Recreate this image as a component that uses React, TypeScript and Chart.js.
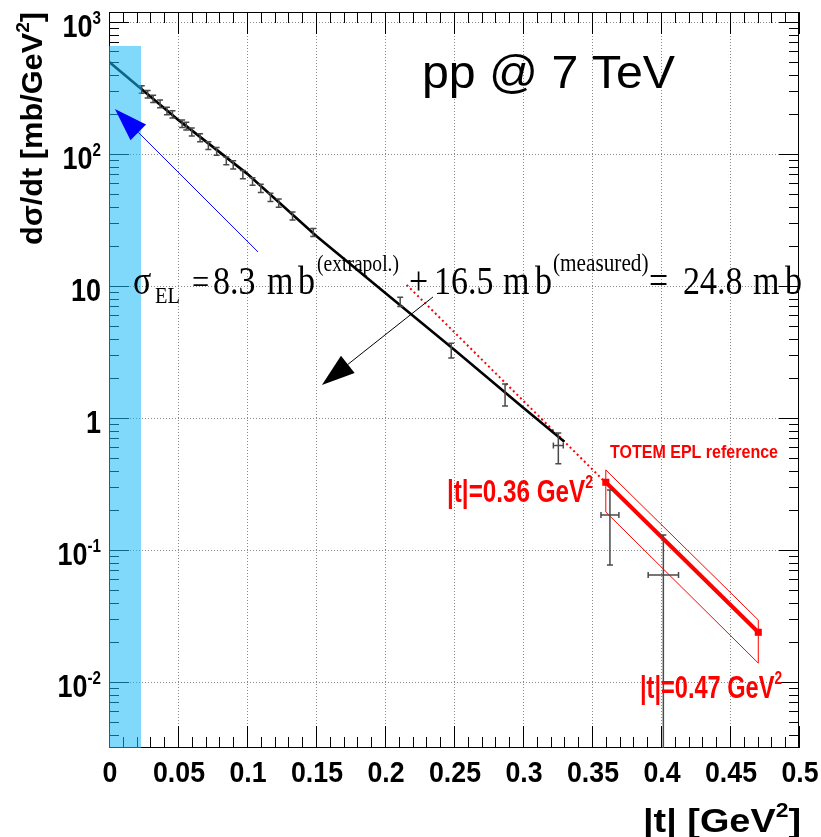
import React, { useEffect, useRef } from "react";
import { Chart, registerables } from "chart.js";
Chart.register(...registerables);

// ---- data ----
const fitT = [0, 0.05, 0.1, 0.15, 0.2, 0.25, 0.3, 0.33];
const fitV = [500, 182, 71, 24, 8.9, 3.3, 1.2, 0.66];

const dataT = [0.0237, 0.028, 0.032, 0.037, 0.042, 0.046, 0.053, 0.056, 0.06, 0.066, 0.072, 0.078, 0.085, 0.09, 0.097, 0.104, 0.11, 0.117, 0.123, 0.133, 0.148, 0.211, 0.248, 0.287, 0.3256, 0.363, 0.4017];
const dataV = [309, 284, 262, 240, 212, 200, 170, 163, 147, 133, 116, 105, 89, 83, 70, 62, 55, 47, 42.5, 34, 25.5, 7.6, 3.18, 1.54, 0.62, 0.184, 0.0647];
const dataErrLo = [20, 18, 17, 16, 14, 13, 11, 11, 10, 9, 8, 7, 6, 6, 5, 4, 4, 3.3, 3, 2.4, 1.8, 0.6, 0.33, 0.31, 0.17, 0.107, 0.0646];
const dataErrHi = [20, 18, 17, 16, 14, 13, 11, 11, 10, 9, 8, 7, 6, 6, 5, 4, 4, 3.3, 3, 2.4, 1.8, 0.6, 0.5, 0.27, 0.15, 0.101, 0.065];
const dataTErr = [0, 0, 0, 0, 0, 0, 0, 0, 0, 0, 0, 0, 0, 0, 0, 0, 0, 0, 0, 0, 0, 0, 0, 0, 0.0036, 0.0065, 0.011];

const extrapT = [0.2157, 0.358];
const extrapV = [10.2, 0.339];

const refT = [0.36, 0.4705];
const refV = [0.326, 0.0238];
const refBandT = [0.36, 0.4705, 0.4705, 0.36];
const refBandV = [0.404, 0.0295, 0.0139, 0.194];

const bandT = [0, 0.0232];
const bandVTop = 658;

const blueArrowT = [0.108, 0.0043];
const blueArrowV = [18.1, 219];
const blackArrowT = [0.2348, 0.1543];
const blackArrowV = [8.26, 1.78];

const xTickValues = [0, 0.05, 0.1, 0.15, 0.2, 0.25, 0.3, 0.35, 0.4, 0.45, 0.5];
const xTickLabels = ["0", "0.05", "0.1", "0.15", "0.2", "0.25", "0.3", "0.35", "0.4", "0.45", "0.5"];
const yTickValues = [1000, 100, 10, 1, 0.1, 0.01];
const yTickBase = ["10", "10", "10", "1", "10", "10"];
const yTickExp = ["3", "2", "", "", "-1", "-2"];

const X_MIN = 0, X_MAX = 0.5, Y_MIN = 0.0031623, Y_MAX = 1190;

type Seg = { t: string; size: number; dy?: number };

function segWidth(ctx: CanvasRenderingContext2D, segs: Seg[], weight: string, family: string) {
  let w = 0;
  for (const s of segs) {
    ctx.font = `${weight} ${s.size}px ${family}`;
    w += ctx.measureText(s.t).width;
  }
  return w;
}

function drawRich(
  ctx: CanvasRenderingContext2D,
  segs: Seg[],
  x: number,
  y: number,
  o: { weight?: string; family?: string; color?: string; width?: number; k?: number; align?: "left" | "right" | "center"; rotate?: number }
) {
  const weight = o.weight ?? "bold";
  const family = o.family ?? "'Liberation Sans', Arial, sans-serif";
  const nat = segWidth(ctx, segs, weight, family);
  const k = o.width ? o.width / nat : o.k ?? 1;
  const total = nat * k;
  ctx.save();
  ctx.translate(x, y);
  if (o.rotate) ctx.rotate(o.rotate);
  const start = o.align === "right" ? -total : o.align === "center" ? -total / 2 : 0;
  ctx.translate(start, 0);
  ctx.scale(k, 1);
  ctx.fillStyle = o.color ?? "#000";
  ctx.textAlign = "left";
  ctx.textBaseline = "alphabetic";
  let cx = 0;
  for (const s of segs) {
    ctx.font = `${weight} ${s.size}px ${family}`;
    ctx.fillText(s.t, cx, s.dy ?? 0);
    cx += ctx.measureText(s.t).width;
  }
  ctx.restore();
}

function drawArrow(ctx: CanvasRenderingContext2D, x1: number, y1: number, x2: number, y2: number, color: string) {
  const headLen = 33, headHalf = 11;
  const ang = Math.atan2(y2 - y1, x2 - x1);
  const bx = x2 - headLen * Math.cos(ang);
  const by = y2 - headLen * Math.sin(ang);
  ctx.save();
  ctx.strokeStyle = color;
  ctx.fillStyle = color;
  ctx.lineWidth = 1;
  ctx.beginPath();
  ctx.moveTo(x1, y1);
  ctx.lineTo(bx, by);
  ctx.stroke();
  ctx.beginPath();
  ctx.moveTo(x2, y2);
  ctx.lineTo(bx + headHalf * Math.sin(ang), by - headHalf * Math.cos(ang));
  ctx.lineTo(bx - headHalf * Math.sin(ang), by + headHalf * Math.cos(ang));
  ctx.closePath();
  ctx.fill();
  ctx.restore();
}

const pts = (xs: number[], ys: number[]) => xs.map((x, i) => ({ x, y: ys[i] }));

const framePlugin = {
  id: "rootFrame",
  beforeDatasetsDraw(chart: any) {
    const ctx: CanvasRenderingContext2D = chart.ctx;
    const { left, right, top, bottom } = chart.chartArea;
    const xs = chart.scales.x, ys = chart.scales.y;
    ctx.save();
    ctx.strokeStyle = "#8a8a8a";
    ctx.lineWidth = 1;
    ctx.setLineDash([1, 2]);
    for (const v of xTickValues) {
      const px = Math.round(xs.getPixelForValue(v)) + 0.5;
      if (px <= left + 1 || px >= right - 1) continue;
      ctx.beginPath();
      ctx.moveTo(px, top);
      ctx.lineTo(px, bottom);
      ctx.stroke();
    }
    for (const v of yTickValues) {
      const py = Math.round(ys.getPixelForValue(v)) + 0.5;
      if (py <= top + 1 || py >= bottom - 1) continue;
      ctx.beginPath();
      ctx.moveTo(left, py);
      ctx.lineTo(right, py);
      ctx.stroke();
    }
    ctx.setLineDash([]);
    ctx.strokeStyle = "#000";
    ctx.strokeRect(left + 0.5, top + 0.5, right - left - 1, bottom - top - 1);
    ctx.beginPath();
    for (let i = 0; i <= 50; i++) {
      const v = i * 0.01;
      const px = Math.round(xs.getPixelForValue(v)) + 0.5;
      const len = i % 5 === 0 ? 22 : 11;
      ctx.moveTo(px, bottom);
      ctx.lineTo(px, bottom - len);
      ctx.moveTo(px, top);
      ctx.lineTo(px, top + len);
    }
    for (let d = -3; d <= 3; d++) {
      for (let m = 1; m <= 9; m++) {
        const v = m * Math.pow(10, d);
        if (v < Y_MIN || v > Y_MAX) continue;
        const py = Math.round(ys.getPixelForValue(v)) + 0.5;
        const len = m === 1 ? 20 : 10;
        ctx.moveTo(left, py);
        ctx.lineTo(left + len, py);
        ctx.moveTo(right, py);
        ctx.lineTo(right - len, py);
      }
    }
    ctx.stroke();

    // TOTEM reference uncertainty band outline
    ctx.strokeStyle = "#ff0000";
    ctx.lineWidth = 1;
    ctx.beginPath();
    refBandT.forEach((t, i) => {
      const px = xs.getPixelForValue(t);
      const py = ys.getPixelForValue(refBandV[i]);
      if (i === 0) ctx.moveTo(px, py);
      else ctx.lineTo(px, py);
    });
    ctx.closePath();
    ctx.stroke();
    ctx.restore();
  },
  afterDatasetsDraw(chart: any) {
    const ctx: CanvasRenderingContext2D = chart.ctx;
    const { left, right, top, bottom } = chart.chartArea;
    const xs = chart.scales.x, ys = chart.scales.y;
    const X = (v: number) => xs.getPixelForValue(v);
    const Y = (v: number) => ys.getPixelForValue(Math.max(v, 1e-6));
    ctx.save();
    ctx.beginPath();
    ctx.rect(left, top, right - left, bottom - top);
    ctx.clip();
    // measured points with error bars
    ctx.strokeStyle = "#4a4a4a";
    ctx.lineWidth = 1.5;
    for (let i = 0; i < dataT.length; i++) {
      const px = X(dataT[i]);
      const py = Y(dataV[i]);
      const yl = Y(dataV[i] - dataErrLo[i]);
      const yh = Y(dataV[i] + dataErrHi[i]);
      ctx.beginPath();
      ctx.moveTo(px, yl);
      ctx.lineTo(px, yh);
      ctx.moveTo(px - 3, yl);
      ctx.lineTo(px + 3, yl);
      ctx.moveTo(px - 3, yh);
      ctx.lineTo(px + 3, yh);
      if (dataTErr[i] > 0) {
        const xl = X(dataT[i] - dataTErr[i]);
        const xh = X(dataT[i] + dataTErr[i]);
        ctx.moveTo(xl, py);
        ctx.lineTo(xh, py);
        ctx.moveTo(xl, py - 3);
        ctx.lineTo(xl, py + 3);
        ctx.moveTo(xh, py - 3);
        ctx.lineTo(xh, py + 3);
      }
      ctx.stroke();
    }
    // extrapolation region band
    ctx.fillStyle = "rgba(24,186,246,0.55)";
    const bx0 = X(bandT[0]), bx1 = X(bandT[1]);
    const by0 = Y(bandVTop);
    ctx.fillRect(bx0, by0, bx1 - bx0, bottom - by0);
    ctx.restore();

    drawArrow(ctx, X(blueArrowT[0]), Y(blueArrowV[0]), X(blueArrowT[1]), Y(blueArrowV[1]), "#0000ff");
    drawArrow(ctx, X(blackArrowT[0]), Y(blackArrowV[0]), X(blackArrowT[1]), Y(blackArrowV[1]), "#000000");

    drawRich(ctx, [{ t: "pp @ 7 TeV", size: 46 }], 422, 88, { weight: "normal", width: 253 });

    const serif = "'Liberation Serif', 'Times New Roman', serif";
    const kS = 0.85;
    const formula: { t: string; x: number; size: number; dy: number }[] = [
      { t: "σ", x: 133, size: 40, dy: 0 },
      { t: "EL", x: 155, size: 24, dy: 9 },
      { t: "=", x: 192, size: 36, dy: 0 },
      { t: "8.3", x: 213, size: 40, dy: 0 },
      { t: "m", x: 267, size: 40, dy: 0 },
      { t: "b", x: 298, size: 40, dy: 0 },
      { t: "(extrapol.)", x: 317, size: 23, dy: -23 },
      { t: "+", x: 409, size: 40, dy: 0 },
      { t: "16.5", x: 434, size: 40, dy: 0 },
      { t: "m", x: 503, size: 40, dy: 0 },
      { t: "b", x: 535, size: 40, dy: 0 },
      { t: "(measured)", x: 553, size: 25, dy: -23 },
      { t: "=", x: 649, size: 40, dy: 0 },
      { t: "24.8", x: 683, size: 40, dy: 0 },
      { t: "m", x: 753, size: 40, dy: 0 },
      { t: "b", x: 785, size: 40, dy: 0 },
    ];
    for (const f of formula) {
      drawRich(ctx, [{ t: f.t, size: f.size }], f.x, 294 + f.dy, { weight: "normal", family: serif, k: kS });
    }

    drawRich(ctx, [{ t: "TOTEM EPL reference", size: 18 }], 610, 458, { color: "#ff0000", width: 168 });
    drawRich(ctx, [{ t: "|t|=0.36 GeV", size: 31 }, { t: "2", size: 18, dy: -14 }], 447, 502, { color: "#ff0000", width: 146 });
    drawRich(ctx, [{ t: "|t|=0.47 GeV", size: 31 }, { t: "2", size: 18, dy: -14 }], 640, 698, { color: "#ff0000", width: 142 });

    ctx.font = "bold 30px 'Liberation Sans', Arial, sans-serif";
    const kx = 52 / ctx.measureText("0.05").width;
    xTickValues.forEach((v, i) => {
      drawRich(ctx, [{ t: xTickLabels[i], size: 30 }], X(v) + 1, 782, { k: kx, align: "center" });
    });
    ctx.font = "bold 32px 'Liberation Sans', Arial, sans-serif";
    const ky = 30 / ctx.measureText("10").width;
    yTickValues.forEach((v, i) => {
      const segs: Seg[] = [{ t: yTickBase[i], size: 32 }];
      if (yTickExp[i]) segs.push({ t: yTickExp[i], size: 18, dy: -13 });
      drawRich(ctx, segs, 101, Y(v) + 15, { k: ky, align: "right" });
    });

    drawRich(ctx, [{ t: "|t| [GeV", size: 33 }, { t: "2", size: 20, dy: -15 }, { t: "]", size: 33 }], 801, 832, { align: "right", width: 158 });
    drawRich(ctx, [{ t: "dσ/dt [mb/GeV", size: 29 }, { t: "2", size: 18, dy: -13 }, { t: "]", size: 29 }], 42, 245, { align: "left", width: 233, rotate: -Math.PI / 2 });
  },
};

export default function App() {
  const ref = useRef<HTMLCanvasElement | null>(null);
  useEffect(() => {
    document.body.style.margin = "0";
    const canvas = ref.current;
    if (!canvas) return;
    const chart = new Chart(canvas, {
      type: "scatter",
      data: {
        datasets: [
          { label: "fit", data: pts(fitT, fitV), showLine: true, borderColor: "#000", backgroundColor: "#000", borderWidth: 2.6, pointRadius: 0, tension: 0, order: 3 },
          { label: "extrap", data: pts(extrapT, extrapV), showLine: true, borderColor: "#ff0000", backgroundColor: "#ff0000", borderWidth: 2, borderDash: [2, 3], pointRadius: 0, order: 4 },
          { label: "ref", data: pts(refT, refV), showLine: true, borderColor: "#ff0000", backgroundColor: "#ff0000", borderWidth: 4, pointRadius: 5, pointStyle: "rect", pointBackgroundColor: "#ff0000", pointBorderColor: "#ff0000", pointBorderWidth: 0, order: 1 },
        ] as any,
      },
      options: {
        responsive: false,
        animation: false,
        devicePixelRatio: 1,
        layout: { padding: { left: 109, right: 22, top: 12, bottom: 89 } },
        plugins: { legend: { display: false }, tooltip: { enabled: false } },
        scales: {
          x: { type: "linear", min: X_MIN, max: X_MAX, display: false },
          y: { type: "logarithmic", min: Y_MIN, max: Y_MAX, display: false },
        },
      } as any,
      plugins: [framePlugin],
    });
    return () => chart.destroy();
  }, []);
  return <canvas ref={ref} width={821} height={837} style={{ display: "block" }} />;
}
